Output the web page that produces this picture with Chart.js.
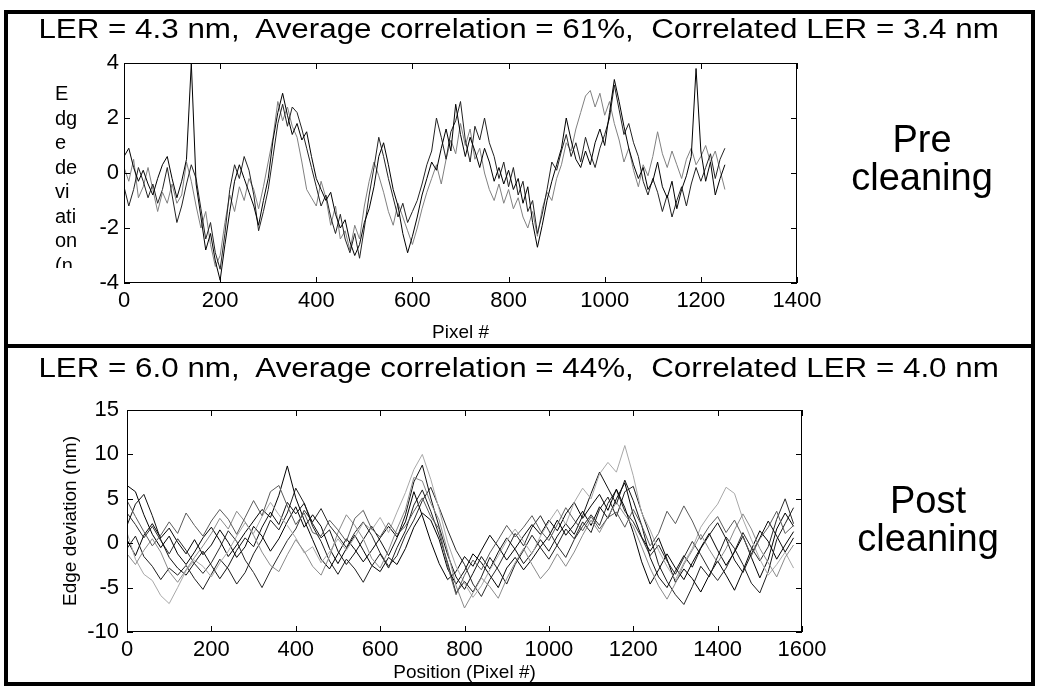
<!DOCTYPE html>
<html>
<head>
<meta charset="utf-8">
<script src="https://cdn.jsdelivr.net/npm/chart.js@4.4.1/dist/chart.umd.min.js"></script>
<style>
body { margin: 0; background: #fff; font-family: "Liberation Sans", Arial, sans-serif; color: #000; }
#fig { position: relative; width: 1038px; height: 686px; overflow: hidden; }
.abs { position: absolute; }
#frame { left: 4px; top: 10px; width: 1031px; height: 676px; border: 4px solid #000; box-sizing: border-box; }
#sep { left: 4px; top: 344px; width: 1031px; height: 4px; background: #000; }
.title { left: 0; width: 1038px; text-align: center; font-size: 27px; line-height: 30px; white-space: nowrap; }
.title span { display: inline-block; transform-origin: center; }
.side { width: 200px; text-align: center; font-size: 38px; line-height: 38px; }
#ylab { left: 55px; top: 81px; height: 187px; overflow: hidden; font-size: 20px; line-height: 24.5px; }
canvas { position: absolute; left: 0; }
</style>
</head>
<body>
<div id="fig">
  <canvas id="chartPre" width="1038" height="345" style="top:0px"></canvas>
  <canvas id="chartPost" width="1038" height="339" style="top:347px"></canvas>
  <div id="frame" class="abs"></div>
  <div id="sep" class="abs"></div>
  <div class="abs title" style="top:14px"><span id="titlePre">LER = 4.3 nm,&nbsp; Average correlation = 61%,&nbsp; Correlated LER = 3.4 nm</span></div>
  <div class="abs title" style="top:353px"><span id="titlePost">LER = 6.0 nm,&nbsp; Average correlation = 44%,&nbsp; Correlated LER = 4.0 nm</span></div>
  <div id="ylab" class="abs">E<br>dg<br>e<br>de<br>vi<br>ati<br>on<br>(n</div>
  <div class="abs side" style="left:822px; top:120px">Pre<br>cleaning</div>
  <div class="abs side" style="left:828px; top:481px">Post<br>cleaning</div>
</div>
<script>
// ---- pre cleaning: 3 edges, pixel position vs deviation (nm) ----
const preX = [0,10,20,30,40,50,60,70,80,90,100,110,120,130,140,150,160,170,180,190,200,210,220,230,240,250,260,270,280,290,300,310,320,330,340,350,360,370,380,390,400,410,420,430,440,450,460,470,480,490,500,510,520,530,540,550,560,570,580,590,600,610,620,630,640,650,660,670,680,690,700,710,720,730,740,750,760,770,780,790,800,810,820,830,840,850,860,870,880,890,900,910,920,930,940,950,960,970,980,990,1000,1010,1020,1030,1040,1050,1060,1070,1080,1090,1100,1110,1120,1130,1140,1150,1160,1170,1180,1190,1200,1210,1220,1230,1240,1250];
const preEdge1 = [0.6,0.9,0.2,-0.3,0.1,-0.4,-0.8,-0.2,0.3,0.6,-0.2,
  -0.9,-0.3,0.5,4.0,-0.4,-1.6,-2.8,-2.2,-3.2,-3.9,
  -2.6,-1.4,-0.3,0.3,-0.2,-0.7,-1.2,-1.9,-1.0,-0.2,
  1.2,2.2,2.9,2.1,1.4,1.8,1.2,1.5,0.6,-0.2,
  -0.6,-1.0,-0.7,-1.5,-2.0,-1.7,-2.5,-3.0,-2.6,-1.8,
  -1.3,-0.5,0.6,1.1,0.3,-0.6,-1.2,-2.2,-2.9,-2.3,
  -1.6,-0.8,-0.2,0.4,0.1,0.9,1.6,0.8,2.5,1.4,
  0.6,1.3,0.8,0.2,0.9,0.4,-0.3,0.2,-0.4,0.1,
  -0.6,-0.2,-1.1,-0.5,-1.8,-2.7,-1.9,-1.0,-0.3,0.3,
  0.9,2.0,1.2,0.5,0.2,0.8,0.3,1.1,1.6,1.0,
  2.2,3.4,2.6,1.7,0.9,0.3,-0.2,0.2,-0.6,-0.3,
  0.4,-0.5,-0.9,-0.3,-1.3,-0.6,-0.1,0.6,3.8,0.8,
  -0.3,0.4,-0.8,-0.2,0.3];
const preEdge2 = [-0.5,-1.2,-0.6,0.2,-0.3,-0.9,-0.4,-1.1,-0.6,0.2,-0.8,
  -1.8,-1.2,-0.4,0.3,-0.2,-1.3,-2.4,-1.8,-2.9,-3.5,
  -2.2,-0.6,0.3,-0.2,0.6,0.1,-0.8,-2.1,-1.4,-0.6,
  0.6,1.8,2.5,1.7,2.4,2.2,1.6,0.9,0.2,-0.5,
  -1.2,-0.8,-1.6,-2.2,-1.5,-2.4,-2.9,-2.2,-3.1,-2.0,
  -0.8,0.2,1.3,0.6,-0.2,-0.9,-1.6,-1.1,-1.8,-1.4,
  -1.0,-0.4,0.3,0.8,2.0,1.3,0.5,1.5,1.9,2.6,
  1.2,0.4,1.7,1.2,2.0,1.1,0.6,-0.2,0.4,-0.5,
  0.2,-0.8,-0.3,-1.4,-1.0,-2.2,-1.5,-0.6,0.4,0.1,
  0.8,1.4,0.6,1.1,0.4,1.3,0.7,0.2,0.9,1.4,
  2.0,3.2,2.3,1.4,1.8,1.1,0.6,-0.3,-0.8,-0.2,
  -0.7,-1.4,-0.8,-1.6,-1.0,-0.5,-1.2,-0.4,0.2,-0.3,
  0.2,0.7,-0.2,0.5,0.9];
const preEdge3 = [0.2,-0.3,0.5,-0.9,-0.5,0.2,-0.6,-1.4,-0.7,-1.1,-0.4,
  -1.1,-0.8,0.4,-0.3,-1.2,-2.0,-1.4,-2.6,-3.4,-3.0,
  -1.8,-0.8,-1.4,-0.5,-1.0,-0.2,-0.6,-1.3,-0.5,0.4,
  1.3,2.6,1.9,2.4,1.7,1.3,0.4,-0.6,-0.9,-1.2,
  -0.3,-0.9,-1.9,-1.2,-2.4,-2.1,-2.8,-1.9,-2.4,-1.2,
  -0.3,0.4,-0.1,-0.7,-1.4,-1.9,-1.1,-1.6,-2.1,-2.6,
  -2.0,-1.3,-0.7,-0.2,0.3,-0.4,0.5,1.2,0.7,1.8,
  1.0,1.6,0.5,0.9,0.0,-0.6,-1.0,-0.4,-1.1,-0.6,
  -1.3,-0.9,-1.6,-2.0,-1.4,-2.3,-1.3,-0.7,-1.0,-0.2,
  0.3,1.1,0.8,1.6,2.2,2.8,3.0,2.4,2.9,2.1,
  2.6,1.8,1.2,0.4,0.9,0.1,-0.5,0.3,-0.1,0.6,
  1.5,0.7,0.2,0.8,0.3,-0.2,0.5,0.9,0.3,0.6,
  1.0,0.4,0.8,0.1,-0.6];

// ---- post cleaning: 8 edges ----
const postX = [0,20,40,60,80,100,120,140,160,180,200,220,240,260,280,300,320,340,360,380,400,420,440,460,480,500,520,540,560,580,600,620,640,660,680,700,720,740,760,780,800,820,840,860,880,900,920,940,960,980,1000,1020,1040,1060,1080,1100,1120,1140,1160,1180,1200,1220,1240,1260,1280,1300,1320,1340,1360,1380,1400,1420,1440,1460,1480,1500,1520,1540,1560,1580];
const postEdge1 = [6.5,5.8,3.2,1.0,-0.5,0.8,-1.2,-2.4,-1.0,0.6,
  1.8,0.3,-1.5,-0.2,1.2,2.5,3.8,2.9,5.4,8.7,
  5.1,2.6,0.4,-1.8,-2.9,-1.2,0.5,-0.7,-2.1,-0.8,
  0.6,1.9,0.7,2.4,5.8,3.1,0.2,-2.3,-4.1,-3.2,
  -1.5,-2.6,-0.8,0.9,-0.4,-1.9,-0.6,0.8,2.1,1.0,
  2.6,1.4,3.3,4.6,2.8,4.2,5.5,3.7,6.1,4.0,
  1.2,-2.1,-4.6,-3.0,-1.2,-2.8,-4.1,-2.2,-0.5,1.1,
  -0.8,-2.5,-1.0,0.8,-1.6,-3.9,-1.8,1.6,3.4,1.9];
const postEdge2 = [2.0,4.4,5.5,3.1,0.4,-1.6,-2.8,-3.6,-2.2,-0.9,
  -2.5,-4.0,-2.6,-0.8,0.6,-0.4,1.8,3.5,2.1,4.6,
  3.3,4.5,2.2,0.6,1.5,-0.9,-2.4,-1.1,0.4,1.9,
  0.3,-1.4,0.6,3.2,6.9,8.8,5.1,1.8,-1.3,-3.8,
  -5.2,-3.4,-1.5,-2.9,-1.0,0.6,-0.7,-2.3,-1.1,0.4,
  -0.9,0.8,2.2,1.0,3.1,5.6,8.0,6.2,4.4,7.1,
  4.8,2.0,-1.6,-3.8,-5.0,-3.1,-1.4,-2.7,-0.6,0.9,
  2.3,0.5,-1.9,-3.3,-1.2,0.6,2.5,0.8,-1.0,0.6];
const postEdge3 = [-0.6,0.8,-1.5,-2.6,-4.1,-2.8,-3.6,-2.5,-4.0,-5.2,
  -3.5,-1.8,-2.9,-4.6,-3.3,-1.2,0.4,2.6,1.5,3.4,
  6.2,4.5,1.9,0.2,-2.0,-3.5,-1.8,-2.9,-4.4,-2.6,
  -1.2,-2.8,-0.5,1.4,4.3,6.0,3.6,0.9,-2.2,-5.6,
  -4.3,-5.5,-3.8,-1.6,-3.0,-4.6,-2.4,-0.8,0.9,-0.5,
  -1.8,-0.2,1.6,0.5,2.4,1.2,3.8,5.2,3.0,5.8,
  6.4,3.5,0.8,-2.4,-4.3,-5.8,-6.9,-4.9,-2.6,-3.8,
  -1.5,0.7,-0.6,-2.4,-4.5,-5.6,-3.2,0.4,2.2,4.0];
const postEdge4 = [3.4,2.1,0.6,1.9,0.3,-1.2,0.5,-0.8,-2.3,-3.4,
  -2.2,-0.5,1.4,0.2,-1.9,-3.3,-5.0,-3.1,-1.4,0.3,
  1.6,3.7,2.4,3.9,2.0,0.8,-0.5,1.2,2.4,0.9,
  -1.1,-2.6,-1.4,0.9,2.6,4.8,6.3,4.0,1.5,-0.8,
  -2.4,-4.6,-6.0,-4.1,-2.6,-0.8,1.1,-0.3,1.8,3.1,
  1.4,-0.3,-1.6,0.4,1.9,3.2,2.0,4.5,6.0,3.6,
  2.4,0.6,-1.4,-0.2,-2.0,-3.5,-1.6,0.2,-1.3,-3.0,
  -4.2,-2.8,-0.9,1.2,-0.5,-2.0,-0.4,2.7,5.0,2.2];
const postEdge5 = [0.4,-1.4,0.9,2.2,0.6,1.7,0.1,-1.2,0.4,-1.3,
  -0.2,1.5,0.1,-1.6,-0.4,1.9,0.8,-0.9,0.5,2.4,
  4.1,1.8,3.2,1.9,-0.6,-2.3,-0.6,0.9,-0.8,-2.5,
  -3.2,-1.6,-2.4,-0.6,1.8,3.4,2.6,0.4,-2.9,-4.6,
  -3.1,-1.2,-2.2,-3.6,-5.0,-2.8,-1.6,-3.0,-1.8,-0.4,
  0.8,2.6,0.9,2.1,3.6,2.0,4.1,2.8,5.0,6.8,
  3.2,0.7,-0.9,0.6,-1.8,-4.4,-2.9,-4.0,-5.5,-3.6,
  -2.0,-3.6,-5.3,-3.1,-0.7,1.4,0.2,-1.8,-0.2,1.3];
const postEdge6 = [1.2,-1.8,-3.5,-4.2,-5.9,-6.8,-5.0,-3.1,-1.9,-2.6,
  -3.8,-2.2,-0.9,0.8,2.3,1.1,3.0,4.6,3.2,2.0,
  0.6,-1.1,-0.4,-2.2,-1.0,0.5,-0.8,0.7,2.3,1.5,
  2.9,1.2,3.5,5.7,8.3,10.0,7.2,3.8,0.1,-2.6,
  -4.5,-6.1,-4.8,-3.0,-1.4,0.3,1.6,0.2,-1.2,0.8,
  2.4,3.8,2.1,4.6,6.2,5.0,7.8,9.1,8.0,11.0,
  7.6,3.4,1.5,-0.8,-2.6,-4.1,-2.2,-0.6,1.8,3.2,
  4.4,6.3,5.6,2.7,0.4,-1.8,-3.6,-2.4,-1.0,-2.8];
const postEdge7 = [-1.2,-2.4,-0.8,0.5,-1.0,-3.2,-4.4,-3.0,-1.6,-0.3,
  1.1,2.8,1.6,3.6,2.4,0.9,-1.0,-2.5,-3.2,-1.3,
  0.4,-0.9,-2.6,-3.6,-1.5,1.2,3.2,2.0,0.5,-1.7,
  -2.8,-0.8,1.6,3.8,7.4,7.0,4.5,2.6,-0.9,-4.8,
  -7.3,-5.6,-3.9,-4.9,-6.2,-4.0,-2.2,-0.6,-2.4,-4.0,
  -2.9,-1.2,-2.6,-1.0,0.9,2.6,1.2,3.0,4.6,3.2,
  1.9,-0.4,-2.8,-4.8,-6.3,-4.5,-2.4,-0.8,1.0,-0.7,
  -2.2,-0.6,1.5,3.3,1.6,-0.6,-2.2,-3.8,-1.6,-0.2];
const postEdge8 = [4.8,3.0,1.3,-0.3,0.9,2.4,1.1,3.4,2.0,0.8,
  2.5,3.8,2.7,1.0,2.9,4.8,3.1,5.8,6.5,4.2,
  2.1,3.4,1.2,0.8,2.6,1.5,0.2,2.8,3.7,1.6,
  0.7,2.3,1.0,1.9,3.6,5.1,3.0,1.6,-2.6,-5.8,
  -3.6,-1.9,-3.0,-1.1,0.4,2.0,0.7,1.8,3.1,1.4,
  0.3,2.1,4.0,2.6,1.4,3.0,1.6,2.9,3.5,1.8,
  3.8,2.0,-0.3,1.1,3.6,2.2,4.2,2.5,0.4,1.9,
  3.0,1.2,2.6,0.7,-1.4,0.5,1.8,3.6,1.1,2.0];

const preColors = ['#000000', '#222222', '#808080'];
const postColors = ['#000000', '#111111', '#1e1e1e', '#2a2a2a', '#000000', '#a8a8a8', '#8a8a8a', '#5a5a5a'];

const TICK_FONT = { family: '"Liberation Sans", Arial, sans-serif', size: 22 };
const TITLE_FONT = { family: '"Liberation Sans", Arial, sans-serif', size: 19 };

// MATLAB style box with inward ticks on all four sides
const boxTicks = {
    id: 'boxTicks',
    afterDatasetsDraw(chart) {
        const ctx = chart.ctx;
        const a = chart.chartArea;
        const sx = chart.scales.x, sy = chart.scales.y;
        ctx.save();
        ctx.strokeStyle = '#000';
        ctx.lineWidth = 1;
        ctx.strokeRect(a.left + 0.5, a.top + 0.5, a.width - 1, a.height - 1);
        ctx.beginPath();
        sx.ticks.forEach(t => {
            const px = Math.round(sx.getPixelForValue(t.value)) + 0.5;
            ctx.moveTo(px, a.bottom); ctx.lineTo(px, a.bottom - 6);
            ctx.moveTo(px, a.top); ctx.lineTo(px, a.top + 6);
        });
        sy.ticks.forEach(t => {
            const py = Math.round(sy.getPixelForValue(t.value)) + 0.5;
            ctx.moveTo(a.left, py); ctx.lineTo(a.left + 6, py);
            ctx.moveTo(a.right, py); ctx.lineTo(a.right - 6, py);
        });
        ctx.stroke();
        ctx.restore();
    }
};

function toPoints(xs, ys) {
    return ys.map((v, i) => ({ x: xs[i], y: v }));
}

// plain numbers, no thousands separator (MATLAB look)
function plainLabel(v) {
    return String(v);
}

function makeChart(id, xs, series, colors, cfg) {
    const datasets = series.map((ys, i) => ({
        data: toPoints(xs, ys),
        borderColor: colors[i],
        borderWidth: 1,
        pointRadius: 0,
        tension: 0,
        fill: false
    }));
    return new Chart(document.getElementById(id), {
        type: 'line',
        data: { datasets: datasets },
        options: {
            responsive: false,
            animation: false,
            layout: { padding: cfg.padding },
            plugins: { legend: { display: false }, tooltip: { enabled: false } },
            scales: {
                x: {
                    type: 'linear',
                    min: cfg.xMin, max: cfg.xMax,
                    grid: { display: false, drawTicks: false },
                    border: { display: false },
                    ticks: { stepSize: cfg.xStep, color: '#000', font: TICK_FONT, padding: cfg.xPad, autoSkip: false, maxRotation: 0, callback: plainLabel },
                    title: { display: true, text: cfg.xTitle, color: '#000', font: TITLE_FONT, padding: { top: 0, bottom: cfg.xTitlePad } },
                    afterFit: s => { s.height = cfg.xHeight; }
                },
                y: {
                    min: cfg.yMin, max: cfg.yMax,
                    grid: { display: false, drawTicks: false },
                    border: { display: false },
                    ticks: { stepSize: cfg.yStep, color: '#000', font: TICK_FONT, padding: cfg.yPad, autoSkip: false, callback: plainLabel },
                    title: { display: !!cfg.yTitle, text: cfg.yTitle || '', color: '#000', font: TITLE_FONT, padding: { top: 4, bottom: 0 } },
                    afterFit: s => { s.width = cfg.yWidth; }
                }
            }
        },
        plugins: [boxTicks]
    });
}

makeChart('chartPre', preX, [preEdge1, preEdge2, preEdge3], preColors, {
    padding: { left: 0, top: 63, right: 241, bottom: 0 },
    xMin: 0, xMax: 1400, xStep: 200, xPad: 5, xTitle: 'Pixel #', xTitlePad: 1, xHeight: 62,
    yMin: -4, yMax: 4, yStep: 2, yPad: 5, yWidth: 124
});

makeChart('chartPost', postX,
    [postEdge8, postEdge7, postEdge6, postEdge1, postEdge2, postEdge3, postEdge4, postEdge5],
    [postColors[7], postColors[6], postColors[5], postColors[0], postColors[1], postColors[2], postColors[3], postColors[4]], {
    padding: { left: 55, top: 63, right: 236, bottom: 0 },
    xMin: 0, xMax: 1600, xStep: 200, xPad: 5, xTitle: 'Position (Pixel #)', xTitlePad: 2, xHeight: 54,
    yMin: -10, yMax: 15, yStep: 5, yPad: 8, yWidth: 72, yTitle: 'Edge deviation (nm)'
});

// stretch the panel titles to the width they have in the figure
['titlePre', 'titlePost'].forEach(id => {
    const el = document.getElementById(id);
    const w = el.offsetWidth;
    el.style.transform = 'scaleX(' + (960 / w).toFixed(3) + ')';
});
</script>
</body>
</html>
